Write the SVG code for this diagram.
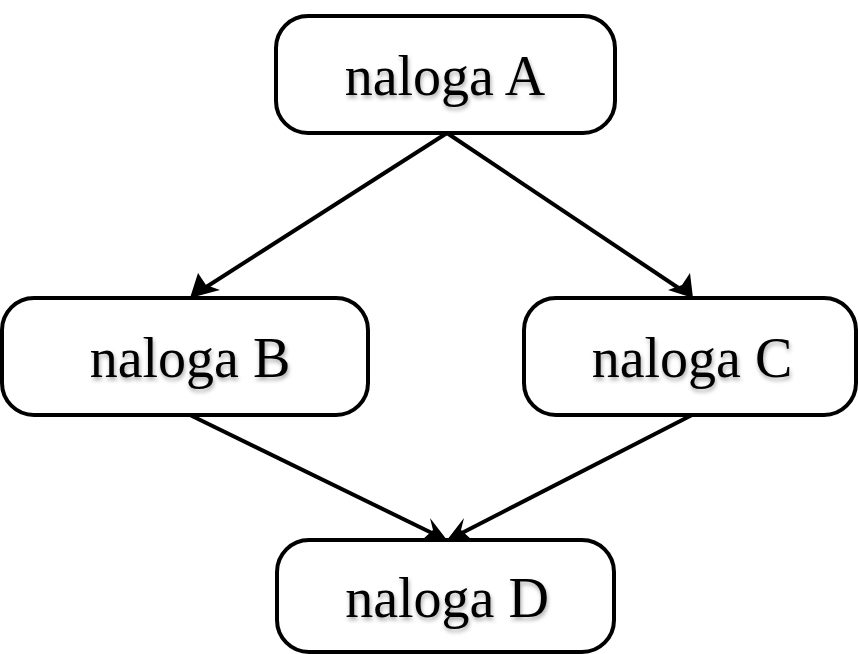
<svg xmlns="http://www.w3.org/2000/svg" width="858" height="654" viewBox="0 0 858 654">
<defs>
<filter id="sh" x="-10%" y="-20%" width="120%" height="150%">
<feGaussianBlur in="SourceAlpha" stdDeviation="2"/>
<feOffset dx="1" dy="3" result="b"/>
<feComponentTransfer><feFuncA type="linear" slope="0.35"/></feComponentTransfer>
<feMerge><feMergeNode/><feMergeNode in="SourceGraphic"/></feMerge>
</filter>
<marker id="ah" viewBox="0 0 10 10" refX="9" refY="5" markerWidth="8" markerHeight="8" markerUnits="userSpaceOnUse" orient="auto" overflow="visible">
<path d="M0,0 L10,5 L0,10 L3,5 Z" fill="#000" transform="scale(2.8) translate(-6.5,-3.2)"/>
</marker>
<style>
.box{fill:#fff;stroke:#000;stroke-width:4}
.lbl{font-family:"Liberation Serif",serif;font-size:56px;fill:#000;text-anchor:middle;filter:url(#sh)}
.edge{stroke:#000;stroke-width:4;fill:none}
.head{fill:#000}
</style>
</defs>
<g id="connectors">
<line class="edge" x1="447" y1="133" x2="200" y2="291"/>
<path class="head" d="M190,298 L198,273 L206,285 L220,290 Z"/>
<line class="edge" x1="447" y1="133" x2="683" y2="291"/>
<path class="head" d="M693,298 L668,290 L682,285 L690,273 Z"/>
<line class="edge" x1="190" y1="415" x2="436" y2="535"/>
<path class="head" d="M447,540 L422,540 L433,530 L430,518 Z"/>
<line class="edge" x1="692" y1="415" x2="458" y2="535"/>
<path class="head" d="M447,540 L464,518 L461,530 L472,540 Z"/>
</g>
<g id="nodeA"><rect class="box" x="276" y="16" width="339" height="117" rx="32"/><text class="lbl" x="445" y="95">naloga A</text></g>
<g id="nodeB"><rect class="box" x="2" y="298" width="366" height="117" rx="32"/><text class="lbl" x="190" y="377">naloga B</text></g>
<g id="nodeC"><rect class="box" x="524" y="298" width="332" height="117" rx="32"/><text class="lbl" x="692" y="377">naloga C</text></g>
<g id="nodeD"><rect class="box" x="277" y="540" width="337" height="112" rx="32"/><text class="lbl" x="447" y="617">naloga D</text></g>
</svg>
